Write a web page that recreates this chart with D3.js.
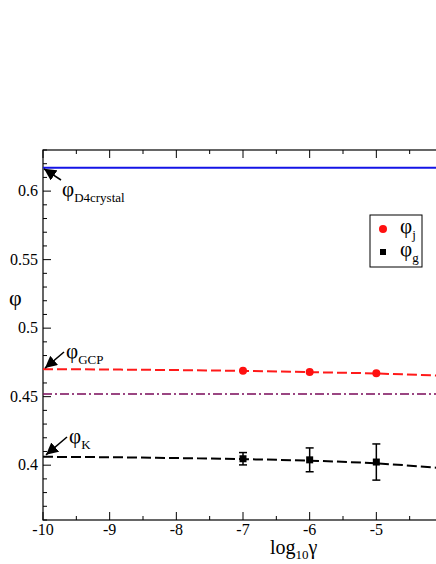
<!DOCTYPE html>
<html><head><meta charset="utf-8">
<script src="https://cdn.jsdelivr.net/npm/d3@7"></script>
<style>body{margin:0;background:#fff}svg{display:block}svg text{font-family:"Liberation Serif",Tinos,"Times New Roman",Times,"DejaVu Serif","Noto Serif",FreeSerif,serif}</style>
</head><body><svg id="c" width="436" height="564"></svg>
<script>
const xTicks = [-10, -9, -8, -7, -6, -5];
const yTicks = [0.4, 0.45, 0.5, 0.55, 0.6];
const phiD4 = 0.617;
const phiPurple = 0.452;
const jamCurveX = [-10, -9, -8, -7, -6, -5, -4];
const jamCurveY = [0.4701, 0.4698, 0.4694, 0.4688, 0.4679, 0.4669, 0.4652];
const glassCurveX = [-10, -9, -8, -7, -6, -5, -4];
const glassCurveY = [0.4061, 0.4058, 0.4052, 0.4044, 0.4033, 0.4013, 0.3978];
const jamX = [-7, -6, -5];
const jamY = [0.4689, 0.4680, 0.4670];
const glassX = [-7, -6, -5];
const glassY = [0.4047, 0.4039, 0.4023];
const glassErr = [0.0045, 0.0087, 0.0132];

const svg = d3.select("#c");
const L = 43, R = 443, T = 150, B = 520;
const x = d3.scaleLinear().domain([-10, -4]).range([L, R]);
const y = d3.scaleLinear().domain([0.36, 0.63]).range([B, T]);

const xMinor = d3.range(-10, -3.9, 0.5);
const yMinor = d3.range(0.36, 0.631, 0.01).map(v => +v.toFixed(2));
const g = svg.append("g");
g.selectAll(".xm").data(xMinor).join("line")
  .attr("x1", d => x(d)).attr("x2", d => x(d))
  .attr("y1", B).attr("y2", d => B - (Number.isInteger(d) ? 8 : 4))
  .attr("stroke", "#000").attr("stroke-width", 1);
g.selectAll(".xmt").data(xMinor).join("line")
  .attr("x1", d => x(d)).attr("x2", d => x(d))
  .attr("y1", T).attr("y2", d => T + (Number.isInteger(d) ? 8 : 4))
  .attr("stroke", "#000").attr("stroke-width", 1);
g.selectAll(".ym").data(yMinor).join("line")
  .attr("y1", d => y(d)).attr("y2", d => y(d))
  .attr("x1", L).attr("x2", d => L + (Math.round(d * 100) % 5 === 0 ? 8 : 4))
  .attr("stroke", "#000").attr("stroke-width", 1);

svg.append("rect").attr("x", L).attr("y", T).attr("width", R - L).attr("height", B - T)
  .attr("fill", "none").attr("stroke", "#000").attr("stroke-width", 1.2);

svg.selectAll(".xl").data(xTicks).join("text")
  .attr("x", d => x(d)).attr("y", 535).attr("text-anchor", "middle")
  .attr("font-size", 16).text(d => d);
svg.selectAll(".yl").data(yTicks).join("text")
  .attr("x", 38).attr("y", d => y(d) + 5).attr("text-anchor", "end")
  .attr("font-size", 16).text(d => d);

svg.append("text").attr("x", 9).attr("y", 305).attr("font-size", 22).text("φ");
const xl = svg.append("text").attr("x", 270).attr("y", 554).attr("font-size", 20);
xl.append("tspan").text("log");
xl.append("tspan").attr("font-size", 13).attr("dy", 5).text("10");
xl.append("tspan").attr("dy", -5).text("γ");

svg.append("line").attr("x1", L).attr("x2", R).attr("y1", y(phiD4)).attr("y2", y(phiD4))
  .attr("stroke", "#1414e6").attr("stroke-width", 2);
svg.append("line").attr("x1", L).attr("x2", R).attr("y1", y(phiPurple)).attr("y2", y(phiPurple))
  .attr("stroke", "#7a0a5a").attr("stroke-width", 1.6).attr("stroke-dasharray", "9,3,2,3");
const line = d3.line().x(d => x(d[0])).y(d => y(d[1])).curve(d3.curveMonotoneX);
svg.append("path").attr("d", line(d3.zip(jamCurveX, jamCurveY)))
  .attr("fill", "none").attr("stroke", "#ff1a1a").attr("stroke-width", 2).attr("stroke-dasharray", "10,4");
svg.append("path").attr("d", line(d3.zip(glassCurveX, glassCurveY)))
  .attr("fill", "none").attr("stroke", "#000").attr("stroke-width", 2).attr("stroke-dasharray", "10,4");

svg.selectAll(".jp").data(d3.zip(jamX, jamY)).join("circle")
  .attr("cx", d => x(d[0])).attr("cy", d => y(d[1])).attr("r", 4).attr("fill", "#ff1010");
const gd = glassX.map((v, i) => [v, glassY[i], glassErr[i]]);
const eb = svg.append("g").attr("stroke", "#000").attr("stroke-width", 1.5);
gd.forEach(d => {
  const cx = x(d[0]);
  eb.append("line").attr("x1", cx).attr("x2", cx).attr("y1", y(d[1] + d[2])).attr("y2", y(d[1] - d[2]));
  eb.append("line").attr("x1", cx - 4).attr("x2", cx + 4).attr("y1", y(d[1] + d[2])).attr("y2", y(d[1] + d[2]));
  eb.append("line").attr("x1", cx - 4).attr("x2", cx + 4).attr("y1", y(d[1] - d[2])).attr("y2", y(d[1] - d[2]));
});
svg.selectAll(".gp").data(gd).join("rect")
  .attr("x", d => x(d[0]) - 3.5).attr("y", d => y(d[1]) - 3.5).attr("width", 7).attr("height", 7).attr("fill", "#000");

const defs = svg.append("defs");
defs.append("marker").attr("id", "ah").attr("viewBox", "0 0 10 10").attr("refX", 10).attr("refY", 5)
  .attr("markerWidth", 12).attr("markerHeight", 12).attr("markerUnits", "userSpaceOnUse").attr("orient", "auto")
  .append("path").attr("d", "M0,0 L10,5 L0,10 z").attr("fill", "#000");
function arrow(x1, y1, x2, y2) {
  svg.append("line").attr("x1", x1).attr("y1", y1).attr("x2", x2).attr("y2", y2)
    .attr("stroke", "#000").attr("stroke-width", 1.5).attr("marker-end", "url(#ah)");
}
function label(px, py, sub) {
  const t = svg.append("text").attr("x", px).attr("y", py).attr("font-size", 21);
  t.append("tspan").text("φ");
  t.append("tspan").attr("font-size", 13).attr("dy", 6).text(sub);
}
arrow(61, 180, x(-10) + 1, y(phiD4) + 1);
label(62, 196, "D4crystal");
arrow(64, 352, x(-10) + 2, y(jamCurveY[0]) - 1);
label(66, 358, "GCP");
arrow(67, 437, x(-10) + 3, y(glassCurveY[0]) - 2);
label(69, 443, "K");

svg.append("rect").attr("x", 370).attr("y", 215).attr("width", 52).attr("height", 52)
  .attr("fill", "#fff").attr("stroke", "#000").attr("stroke-width", 1);
svg.append("circle").attr("cx", 383).attr("cy", 229).attr("r", 4).attr("fill", "#ff1010");
svg.append("rect").attr("x", 380).attr("y", 249).attr("width", 6).attr("height", 6).attr("fill", "#000");
const lj = svg.append("text").attr("x", 400).attr("y", 233).attr("font-size", 21);
lj.append("tspan").text("φ"); lj.append("tspan").attr("font-size", 13).attr("dy", 6).text("j");
const lg = svg.append("text").attr("x", 400).attr("y", 256).attr("font-size", 21);
lg.append("tspan").text("φ"); lg.append("tspan").attr("font-size", 13).attr("dy", 6).text("g");
</script></body></html>
